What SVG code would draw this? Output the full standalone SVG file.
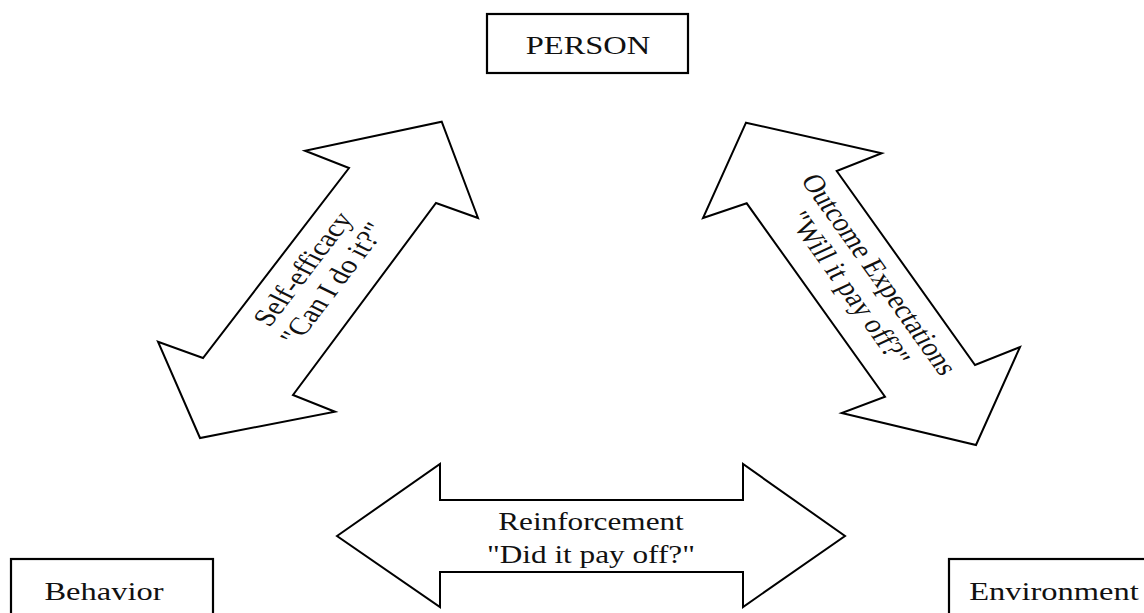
<svg xmlns="http://www.w3.org/2000/svg" width="1144" height="613" viewBox="0 0 1144 613">
<style>
.box{fill:#fff;stroke:#000;stroke-width:2.2}
.arr{fill:#fff;stroke:#000;stroke-width:2;stroke-linejoin:miter}
.t{font-family:"Liberation Serif","Times New Roman",serif;font-size:26px;fill:#111;text-anchor:middle}
.r{font-family:"Liberation Serif","Times New Roman",serif;font-size:25px;fill:#111;text-anchor:middle}
</style>
<rect width="1144" height="613" fill="#fff"/>
<g id="connectors">
  <g id="self-efficacy">
    <polygon class="arr" points="441.7,121.7 478,218 436,203 293,395 335,411.7 200,438 158,341.7 203,358 349,168 305,150.7"/>
    <g transform="translate(317,276) scale(1.25,1) rotate(-58.4)">
      <text class="r" x="0" y="-5">Self-efficacy</text>
      <text class="r" x="0" y="23">"Can I do it?"</text>
    </g>
  </g>
  <g id="outcome-expectations">
    <polygon class="arr" points="746,122.7 881.7,153.3 836.7,171 975,365 1020,347 976,445 841.7,413 885,396.7 746.7,203.3 703,218"/>
    <g transform="translate(865,281) scale(1.25,1) rotate(60.3)">
      <text class="r" x="0" y="-5">Outcome Expectations</text>
      <text class="r" x="0" y="23">"Will it pay off?"</text>
    </g>
  </g>
  <g id="reinforcement">
    <polygon class="arr" points="337,536 440,464 440,500 743,500 743,464 845,536 743,607 743,572 440,572 440,607"/>
    <text class="r" transform="translate(591,530) scale(1.25,1)">Reinforcement</text>
    <text class="r" transform="translate(591,563) scale(1.25,1)">"Did it pay off?"</text>
  </g>
</g>
<g id="node-person">
  <rect class="box" x="487" y="14" width="201" height="59"/>
  <text class="t" transform="translate(588,54) scale(1.25,1)">PERSON</text>
</g>
<g id="node-behavior">
  <rect class="box" x="11" y="559" width="202" height="70"/>
  <text class="t" transform="translate(104,600) scale(1.25,1)">Behavior</text>
</g>
<g id="node-environment">
  <rect class="box" x="949" y="559" width="210" height="70"/>
  <text class="t" transform="translate(1054,600) scale(1.25,1)">Environment</text>
</g>
</svg>
